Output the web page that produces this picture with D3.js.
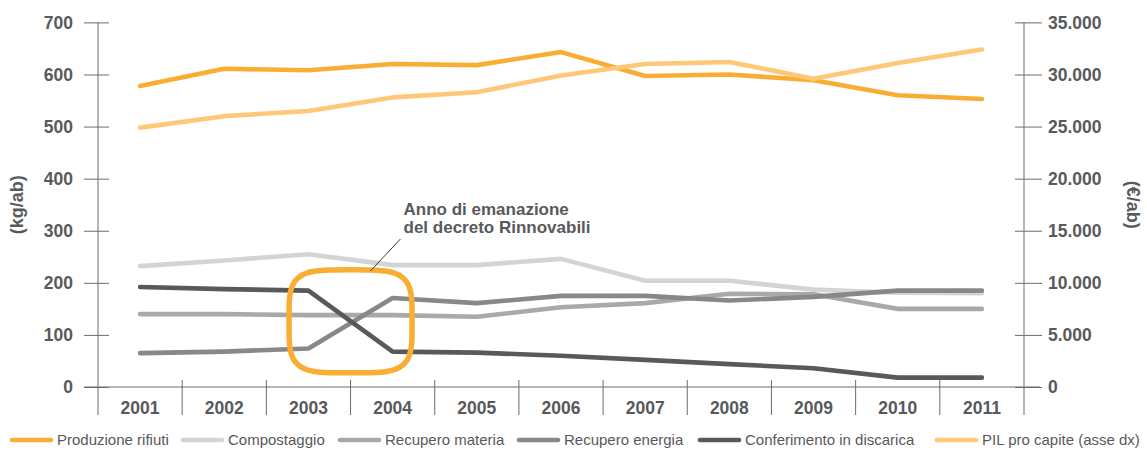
<!DOCTYPE html>
<html>
<head>
<meta charset="utf-8">
<script src="https://cdn.jsdelivr.net/npm/d3@7/dist/d3.min.js"></script>
<style>
  html, body { margin: 0; padding: 0; background: #fff; }
  svg { display: block; font-family: "Liberation Sans", Arial, Helvetica, sans-serif; }
</style>
</head>
<body>
<svg id="chart" width="1147" height="450"></svg>
<script>
// Years on the x axis
const years = ["2001","2002","2003","2004","2005","2006","2007","2008","2009","2010","2011"];

// Waste streams, kg per inhabitant (left axis)
const produzioneRifiuti = [578, 611, 608, 620, 618, 643, 597, 600, 589, 560, 553];
const compostaggio      = [232, 243, 255, 234, 234, 246, 204, 204, 187, 181, 180];
const recuperoMateria   = [140, 140, 138, 138, 135, 153, 161, 179, 178, 150, 150];
const recuperoEnergia   = [65, 68, 74, 171, 161, 175, 175, 166, 173, 185, 185];
const conferimento      = [192, 188, 185, 68, 66, 60, 52, 44, 36, 18, 18];

// GDP per capita, euro per inhabitant (right axis)
const pilProCapite = [24900, 26000, 26500, 27800, 28300, 29900, 31000, 31200, 29600, 31100, 32400];

// Axis ticks
const leftTicks  = [0, 100, 200, 300, 400, 500, 600, 700];
const rightTicks = [0, 5000, 10000, 15000, 20000, 25000, 30000, 35000];

// Series names and colours, in legend order
const seriesNames  = ["Produzione rifiuti", "Compostaggio", "Recupero materia", "Recupero energia", "Conferimento in discarica", "PIL pro capite (asse dx)"];
const seriesColors = ["#F9AE33", "#D4D4D5", "#A8A9AC", "#87888A", "#58595B", "#FFC877"];

// Annotation
const noteYear = "2003";
const noteLines = ["Anno di emanazione", "del decreto Rinnovabili"];

const textColor = "#58595B";
const axisColor = "#6B6C6E";

const svg = d3.select("#chart");

const plotLeft = 98, plotRight = 1024, plotTop = 22.4, plotBottom = 387;

const x = d3.scaleBand().domain(years).range([plotLeft, plotRight]).padding(0);
const cx = d => x(d) + x.bandwidth() / 2;
const yL = d3.scaleLinear().domain([0, 700]).range([plotBottom, plotTop]);
const yR = d3.scaleLinear().domain([0, 35000]).range([plotBottom, plotTop]);

const it = d3.formatLocale({decimal: ",", thousands: ".", grouping: [3], currency: ["€", ""]});
const fmtR = it.format(",");

// ---- axes ----
const gAxes = svg.append("g");

// left axis
const gL = gAxes.append("g").attr("transform", `translate(${plotLeft},0)`)
  .call(d3.axisLeft(yL).tickValues(leftTicks).tickSize(14).tickPadding(11));
gL.select(".domain").remove();
gL.selectAll(".tick line").attr("x1", 11).attr("stroke", axisColor);
gL.selectAll(".tick text")
  .attr("fill", textColor).attr("font-size", 17.5).attr("font-weight", "bold")
  .attr("font-family", "'Liberation Sans', Arial, sans-serif");

// right axis
const gR = gAxes.append("g").attr("transform", `translate(${plotRight},0)`)
  .call(d3.axisRight(yR).tickValues(rightTicks).tickSize(18).tickPadding(6).tickFormat(fmtR));
gR.select(".domain").remove();
gR.selectAll(".tick line").attr("x1", -9).attr("stroke", axisColor);
gR.selectAll(".tick text")
  .attr("fill", textColor).attr("font-size", 17.5).attr("font-weight", "bold")
  .attr("font-family", "'Liberation Sans', Arial, sans-serif");

// vertical axis lines
[plotLeft, plotRight].forEach(px => {
  gAxes.append("line")
    .attr("x1", px).attr("x2", px).attr("y1", plotTop).attr("y2", 415)
    .attr("stroke", axisColor).attr("stroke-width", 1);
});

// baseline
gAxes.append("line")
  .attr("x1", 84).attr("x2", 1040).attr("y1", yL(0)).attr("y2", yL(0))
  .attr("stroke", axisColor).attr("stroke-width", 1);

// category separators between years
gAxes.selectAll(".sep").data(years.slice(1)).join("line")
  .attr("class", "sep")
  .attr("x1", d => x(d)).attr("x2", d => x(d))
  .attr("y1", 380).attr("y2", 415)
  .attr("stroke", axisColor).attr("stroke-width", 1);

// year labels
gAxes.selectAll(".year").data(years).join("text")
  .attr("class", "year")
  .attr("x", d => cx(d)).attr("y", 408).attr("dy", "0.35em")
  .attr("text-anchor", "middle")
  .attr("font-size", 17.5).attr("font-weight", "bold").attr("fill", textColor)
  .text(d => d);

// axis titles
svg.append("text")
  .attr("transform", `translate(17,${(plotTop + plotBottom) / 2}) rotate(-90)`)
  .attr("text-anchor", "middle").attr("dy", "0.35em")
  .attr("font-size", 18).attr("font-weight", "bold").attr("fill", textColor)
  .text("(kg/ab)");
svg.append("text")
  .attr("transform", `translate(1133,${(plotTop + plotBottom) / 2}) rotate(90)`)
  .attr("text-anchor", "middle").attr("dy", "0.35em")
  .attr("font-size", 18).attr("font-weight", "bold").attr("fill", textColor)
  .text("(€/ab)");

// ---- lines ----
const lineL = d3.line().x((d, i) => cx(years[i])).y(d => yL(d));
const lineR = d3.line().x((d, i) => cx(years[i])).y(d => yR(d));

const seriesDraw = [
  {vals: produzioneRifiuti, gen: lineL, color: seriesColors[0]},
  {vals: pilProCapite,      gen: lineR, color: seriesColors[5]},
  {vals: compostaggio,      gen: lineL, color: seriesColors[1]},
  {vals: recuperoMateria,   gen: lineL, color: seriesColors[2]},
  {vals: recuperoEnergia,   gen: lineL, color: seriesColors[3]},
  {vals: conferimento,      gen: lineL, color: seriesColors[4]}
];

svg.append("g").selectAll("path").data(seriesDraw).join("path")
  .attr("d", s => s.gen(s.vals))
  .attr("fill", "none")
  .attr("stroke", s => s.color)
  .attr("stroke-width", 4.6)
  .attr("stroke-linejoin", "round")
  .attr("stroke-linecap", "round");

// ---- annotation: rounded square around the crossing, leader line and label ----
const i0 = years.indexOf(noteYear);
const noteCx = (cx(years[i0]) + cx(years[i0 + 1])) / 2;
const noteCy = yL(126);
const ha = 61.5, hb = 51.5, n = 4.2;
const squircle = d3.range(0, 360, 3).map(deg => {
  const t = deg * Math.PI / 180;
  const c = Math.cos(t), s = Math.sin(t);
  return [
    noteCx + ha * Math.sign(c) * Math.pow(Math.abs(c), 2 / n),
    noteCy + hb * Math.sign(s) * Math.pow(Math.abs(s), 2 / n)
  ];
});
svg.append("path")
  .attr("d", d3.line().curve(d3.curveCatmullRomClosed)(squircle))
  .attr("fill", "none")
  .attr("stroke", seriesColors[0])
  .attr("stroke-width", 5.5);

svg.append("line")
  .attr("x1", noteCx + 20).attr("y1", noteCy - hb + 1)
  .attr("x2", noteCx + 50).attr("y2", noteCy - hb - 31)
  .attr("stroke", "#3a3a3c").attr("stroke-width", 1);

svg.append("g").selectAll("text").data(noteLines).join("text")
  .attr("x", noteCx + 53)
  .attr("y", (d, i) => 214.5 + i * 18.5)
  .attr("font-size", 17).attr("font-weight", "bold").attr("fill", textColor)
  .text(d => d);

// ---- legend ----
const legendX = [10, 181, 338, 517, 698, 935];
const legendY = 440;
const lg = svg.append("g").selectAll("g").data(seriesNames).join("g")
  .attr("transform", (d, i) => `translate(${legendX[i]},${legendY})`);
lg.append("line")
  .attr("x1", 2).attr("x2", 41).attr("y1", 0).attr("y2", 0)
  .attr("stroke", (d, i) => seriesColors[i])
  .attr("stroke-width", 4.6).attr("stroke-linecap", "round");
lg.append("text")
  .attr("x", 47).attr("dy", "0.35em")
  .attr("font-size", 15).attr("fill", textColor)
  .text(d => d);
</script>
</body>
</html>
